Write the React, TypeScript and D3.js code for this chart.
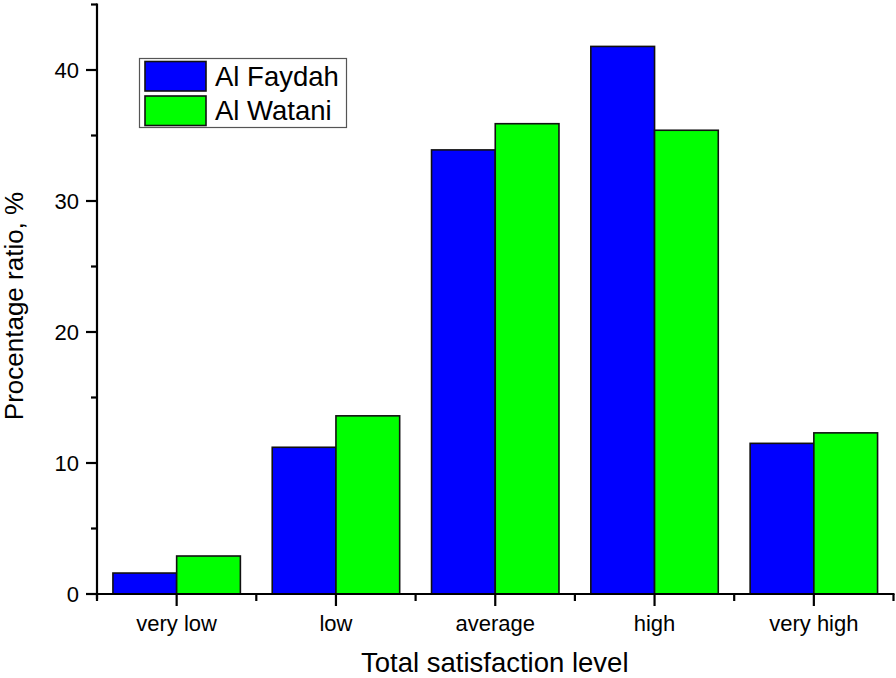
import React from "react";
import * as d3 from "d3";

const categories = ["very low", "low", "average", "high", "very high"];
const seriesNames = ["Al Faydah", "Al Watani"];
const alFaydah = [1.6, 11.2, 33.9, 41.8, 11.5];
const alWatani = [2.9, 13.6, 35.9, 35.4, 12.3];
const seriesColors = ["#0000ff", "#00ff00"];
const yMajorTicks = [0, 10, 20, 30, 40];
const yMinorTicks = [5, 15, 25, 35, 45];
const xTitle = "Total satisfaction level";
const yTitle = "Procentage ratio, %";

const W = 896;
const H = 678;
const left = 97;
const right = 893.5;
const top = 4.5;
const bottom = 594;
const FONT = "'Liberation Sans', Arial, Helvetica, sans-serif";

export default function App() {
  const series = [alFaydah, alWatani];
  const x = d3.scaleBand<string>().domain(categories).range([left, right]).paddingInner(0.2).paddingOuter(0.1);
  const x1 = d3.scaleBand<number>().domain([0, 1]).range([0, x.bandwidth()]).padding(0);
  const y = d3.scaleLinear().domain([0, 45]).range([bottom, top]);
  const step = x.step();
  const boundaries = d3.range(categories.length + 1).map((i) => left + i * step);

  return (
    <svg
      width={W}
      height={H}
      style={{ position: "absolute", left: 0, top: 0, background: "#fff" }}
      fontFamily={FONT}
    >
      <rect x={0} y={0} width={W} height={H} fill="#fff" />
      {categories.map((c, ci) =>
        series.map((s, si) => (
          <rect
            key={c + si}
            x={(x(c) as number) + (x1(si) as number)}
            y={y(s[ci])}
            width={x1.bandwidth()}
            height={y(0) - y(s[ci])}
            fill={seriesColors[si]}
            stroke="#111"
            strokeWidth={1.6}
          />
        ))
      )}
      <line x1={left} x2={left} y1={top - 1} y2={bottom + 5} stroke="#000" strokeWidth={2.2} />
      {yMajorTicks.map((t) => (
        <g key={"ym" + t}>
          <line x1={left - 11} x2={left} y1={y(t)} y2={y(t)} stroke="#000" strokeWidth={2.2} />
          <text x={79} y={y(t)} dy="0.36em" textAnchor="end" fontSize={22} fill="#000">
            {t}
          </text>
        </g>
      ))}
      {yMinorTicks.map((t) => (
        <line key={"yn" + t} x1={left - 6} x2={left} y1={y(t)} y2={y(t)} stroke="#000" strokeWidth={2.2} />
      ))}
      <line x1={left - 2} x2={right + 1} y1={bottom} y2={bottom} stroke="#000" strokeWidth={2.2} />
      {categories.map((c) => {
        const cx = (x(c) as number) + x.bandwidth() / 2;
        return (
          <g key={"xm" + c}>
            <line x1={cx} x2={cx} y1={bottom} y2={bottom + 12} stroke="#000" strokeWidth={2.2} />
            <text x={cx} y={631} textAnchor="middle" fontSize={22} fill="#000">
              {c}
            </text>
          </g>
        );
      })}
      {boundaries.map((b, i) => (
        <line key={"xn" + i} x1={b} x2={b} y1={bottom} y2={bottom + 7} stroke="#000" strokeWidth={2.2} />
      ))}
      <text x={(left + right) / 2 - 0.5} y={672} textAnchor="middle" fontSize={27.5} fill="#000">
        {xTitle}
      </text>
      <text
        transform={`translate(23,${306}) rotate(-90)`}
        textAnchor="middle"
        fontSize={26}
        fill="#000"
      >
        {yTitle}
      </text>
      <rect x={139.5} y={58.5} width={207} height={69} fill="#fff" stroke="#555" strokeWidth={1.2} />
      {seriesNames.map((n, i) => (
        <g key={n}>
          <rect
            x={145}
            y={61.5 + i * 34.5}
            width={61}
            height={29.5}
            fill={seriesColors[i]}
            stroke="#111"
            strokeWidth={1.6}
          />
          <text x={215} y={85.7 + i * 34.5} fontSize={27.5} fill="#000">
            {n}
          </text>
        </g>
      ))}
    </svg>
  );
}
